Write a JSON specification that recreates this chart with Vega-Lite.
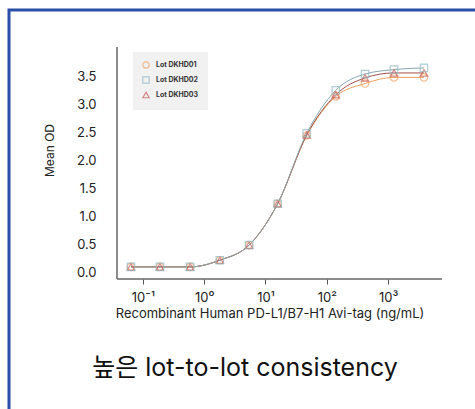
{
  "$schema": "https://vega.github.io/schema/vega-lite/v6.json",
  "width": 480,
  "height": 410,
  "autosize": {"type": "none"},
  "padding": {"left": 9, "top": 10, "right": 0, "bottom": 0},
  "background": "white",
  "config": {
    "view": {"stroke": "#2b4fa5", "strokeWidth": 3},
    "font": "Inter",
    "axis": {"grid": false, "labelColor": "#222", "titleColor": "#222", "labelFont": "Inter", "titleFont": "Inter", "titleFontWeight": "normal"}
  },
  "title": {
    "text": "높은 lot-to-lot consistency",
    "orient": "bottom",
    "anchor": "middle",
    "offset": -44,
    "baseline": "alphabetic",
    "fontSize": 25,
    "fontWeight": "normal",
    "font": "Inter, Noto Sans CJK KR",
    "color": "#111",
    "dx": -4
  },
  "datasets": {
    "curve": [
      {"lot": "Lot DKHD01", "conc": 0.064, "od": 0.10},
      {"lot": "Lot DKHD01", "conc": 0.19, "od": 0.10},
      {"lot": "Lot DKHD01", "conc": 0.59, "od": 0.10},
      {"lot": "Lot DKHD01", "conc": 1.8, "od": 0.22},
      {"lot": "Lot DKHD01", "conc": 5.4, "od": 0.49},
      {"lot": "Lot DKHD01", "conc": 15.8, "od": 1.23},
      {"lot": "Lot DKHD01", "conc": 47, "od": 2.45},
      {"lot": "Lot DKHD01", "conc": 140, "od": 3.15},
      {"lot": "Lot DKHD01", "conc": 419, "od": 3.38},
      {"lot": "Lot DKHD01", "conc": 1245, "od": 3.49},
      {"lot": "Lot DKHD01", "conc": 3837, "od": 3.49},
      {"lot": "Lot DKHD03", "conc": 0.064, "od": 0.10},
      {"lot": "Lot DKHD03", "conc": 0.19, "od": 0.10},
      {"lot": "Lot DKHD03", "conc": 0.59, "od": 0.10},
      {"lot": "Lot DKHD03", "conc": 1.8, "od": 0.22},
      {"lot": "Lot DKHD03", "conc": 5.4, "od": 0.49},
      {"lot": "Lot DKHD03", "conc": 15.8, "od": 1.23},
      {"lot": "Lot DKHD03", "conc": 47, "od": 2.46},
      {"lot": "Lot DKHD03", "conc": 140, "od": 3.18},
      {"lot": "Lot DKHD03", "conc": 419, "od": 3.48},
      {"lot": "Lot DKHD03", "conc": 1245, "od": 3.57},
      {"lot": "Lot DKHD03", "conc": 3837, "od": 3.57},
      {"lot": "Lot DKHD02", "conc": 0.064, "od": 0.10},
      {"lot": "Lot DKHD02", "conc": 0.19, "od": 0.10},
      {"lot": "Lot DKHD02", "conc": 0.59, "od": 0.10},
      {"lot": "Lot DKHD02", "conc": 1.8, "od": 0.22},
      {"lot": "Lot DKHD02", "conc": 5.4, "od": 0.49},
      {"lot": "Lot DKHD02", "conc": 15.8, "od": 1.23},
      {"lot": "Lot DKHD02", "conc": 47, "od": 2.49},
      {"lot": "Lot DKHD02", "conc": 140, "od": 3.26},
      {"lot": "Lot DKHD02", "conc": 419, "od": 3.55},
      {"lot": "Lot DKHD02", "conc": 1245, "od": 3.63},
      {"lot": "Lot DKHD02", "conc": 3837, "od": 3.66}
    ],
    "axislines": [
      {"conc": 0.03791, "conc2": 7551, "od": -0.1163, "od2": -0.1163},
      {"conc": 0.03791, "conc2": 0.03791, "od": -0.1163, "od2": 4.034}
    ]
  },
  "encoding": {
    "x": {
      "field": "conc",
      "type": "quantitative",
      "scale": {"type": "log", "domain": [0.0006573, 44090], "nice": false, "zero": false},
      "axis": {
        "orient": "bottom",
        "offset": -141,
        "domain": false,
        "ticks": true,
        "tickSize": 5,
        "tickColor": "#555",
        "tickWidth": 1,
        "values": [0.1, 1, 10, 100, 1000],
        "labelExpr": "datum.value < 0.5 ? '10⁻¹' : datum.value < 5 ? '10⁰' : datum.value < 50 ? '10¹' : datum.value < 500 ? '10²' : '10³'",
        "labelFontSize": 13,
        "labelPadding": 7,
        "title": "Recombinant Human PD-L1/B7-H1 Avi-tag (ng/mL)",
        "titleFontSize": 13,
        "titleX": 260.5,
        "titleY": 38,
        "titleBaseline": "alphabetic",
        "titleAnchor": "middle"
      }
    },
    "y": {
      "field": "od",
      "type": "quantitative",
      "scale": {"domain": [-2.6386, 4.6959], "nice": false, "zero": false},
      "axis": {
        "orient": "left",
        "offset": -108,
        "domain": false,
        "ticks": false,
        "values": [0, 0.5, 1, 1.5, 2, 2.5, 3, 3.5],
        "format": ".1f",
        "labelFontSize": 13,
        "labelPadding": 21,
        "title": "Mean OD",
        "titleFontSize": 12,
        "titleX": -67.5,
        "titleY": 140,
        "titleBaseline": "middle",
        "titleAnchor": "middle"
      }
    }
  },
  "layer": [
    {
      "data": {"name": "axislines"},
      "mark": {"type": "rule", "color": "#666", "strokeWidth": 1.5},
      "encoding": {
        "x2": {"field": "conc2"},
        "y2": {"field": "od2"}
      }
    },
    {
      "data": {"name": "curve"},
      "mark": {"type": "line", "interpolate": "monotone", "strokeWidth": 1},
      "encoding": {
        "color": {
          "field": "lot",
          "type": "nominal",
          "scale": {"domain": ["Lot DKHD03", "Lot DKHD01", "Lot DKHD02"], "range": ["#a0504a", "#e8a15c", "#86a6ad"]},
          "legend": null
        },
        "detail": {"field": "lot"}
      }
    },
    {
      "data": {"name": "curve"},
      "mark": {"type": "point", "filled": false, "strokeWidth": 1.2, "size": 55},
      "encoding": {
        "shape": {
          "field": "lot",
          "type": "nominal",
          "scale": {"domain": ["Lot DKHD01", "Lot DKHD02", "Lot DKHD03"], "range": ["circle", "square", "triangle-up"]},
          "legend": {
            "orient": "none",
            "legendX": 124,
            "legendY": 42,
            "title": null,
            "fillColor": "#f1f1f1",
            "padding": 9,
            "labelFontSize": 7,
            "labelFont": "Inter",
            "labelFontWeight": "bold",
            "labelColor": "#333",
            "symbolSize": 40,
            "symbolStrokeWidth": 1.2,
            "rowPadding": 3,
            "labelOffset": 6
          }
        },
        "stroke": {
          "field": "lot",
          "type": "nominal",
          "scale": {"domain": ["Lot DKHD01", "Lot DKHD02", "Lot DKHD03"], "range": ["#f0a35e", "#8fb9c6", "#c85a55"]},
          "legend": {
            "orient": "none",
            "legendX": 124,
            "legendY": 42,
            "title": null,
            "fillColor": "#f1f1f1",
            "padding": 9,
            "labelFontSize": 7,
            "labelFont": "Inter",
            "labelFontWeight": "bold",
            "labelColor": "#333",
            "symbolSize": 40,
            "symbolStrokeWidth": 1.2,
            "rowPadding": 3,
            "labelOffset": 6
          }
        }
      }
    }
  ]
}
